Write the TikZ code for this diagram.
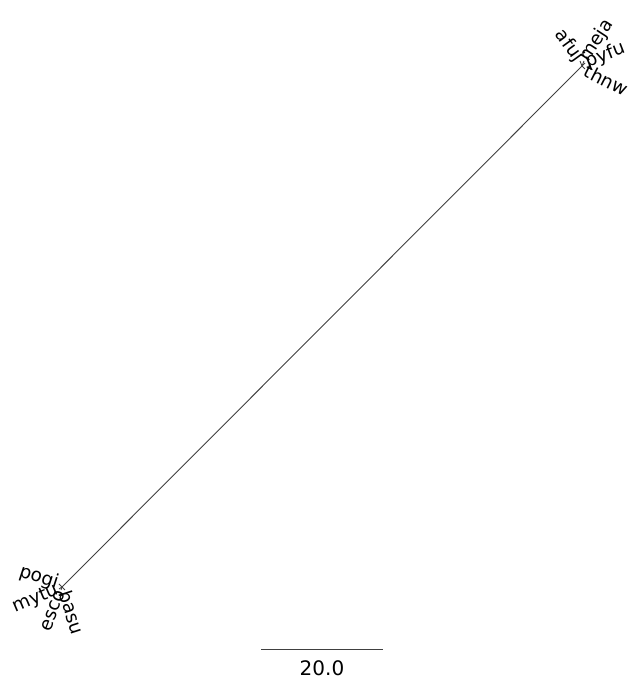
\documentclass[tikz,border=0pt]{standalone}
\usepackage{fontspec}
\setmainfont{DejaVu Sans}
\begin{document}
\begin{tikzpicture}[x=1pt,y=1pt,
  edge/.style={draw=black!75,line width=0.9pt},
  leaflabel/.style={inner sep=1pt,font=\fontsize{18.5}{18.5}\selectfont},
  scalelabel/.style={inner sep=0pt,font=\fontsize{20}{20}\selectfont}]
\useasboundingbox (0,0) rectangle (630,682);
% internal nodes
\coordinate (A) at (62,95);
\coordinate (B) at (582,616);
% leaves near B
\coordinate (lafuj) at (580,621);
\coordinate (lmeja) at (584,621);
\coordinate (lpyfu) at (585,619);
\coordinate (lthnw) at (585,613);
% leaves near A
\coordinate (lpogi) at (59,98);
\coordinate (lmytu) at (59,93);
\coordinate (lesco) at (61,92);
\coordinate (lbasu) at (65,92);
\draw[edge] (A) -- (B);
\foreach \l in {lafuj,lmeja,lpyfu,lthnw} \draw[edge] (B) -- (\l);
\foreach \l in {lpogi,lmytu,lesco,lbasu} \draw[edge] (A) -- (\l);
\node[leaflabel,anchor=east,rotate=-54] (afuj) at (lafuj) {afuj};
\node[leaflabel,anchor=west,rotate=57] (meja) at (lmeja) {meja};
\node[leaflabel,anchor=west,rotate=21] (pyfu) at (lpyfu) {pyfu};
\node[leaflabel,anchor=west,rotate=-27] (thnw) at (lthnw) {thnw};
\node[leaflabel,anchor=east,rotate=-18] (pogi) at (lpogi) {pogi};
\node[leaflabel,anchor=east,rotate=23] (mytu) at (lmytu) {mytu};
\node[leaflabel,anchor=east,rotate=69] (esco) at (lesco) {esco};
\node[leaflabel,anchor=west,rotate=-72] (basu) at (lbasu) {basu};
% scale bar
\coordinate (s1) at (261,33);
\coordinate (s2) at (383,33);
\draw[edge] (s1) -- (s2);
\node[scalelabel] (scale) at (322,14) {20.0};
\end{tikzpicture}
\end{document}
